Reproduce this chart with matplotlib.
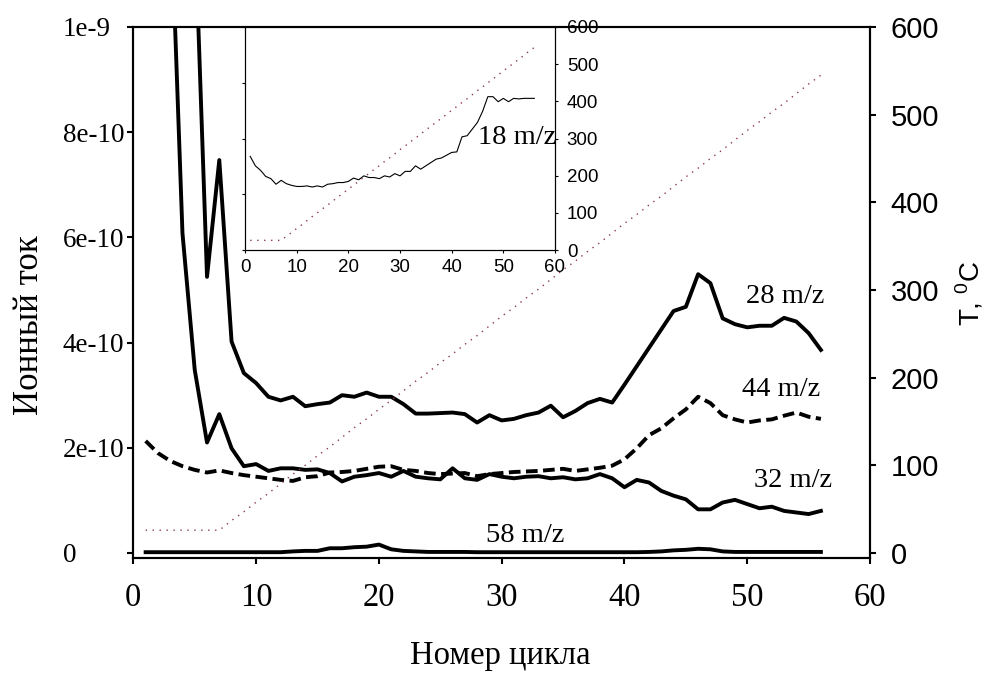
import numpy as np
import matplotlib
matplotlib.use("Agg")
import matplotlib.pyplot as plt

SERIF = ["Liberation Serif", "DejaVu Serif"]
SANS = ["Liberation Sans", "DejaVu Sans"]

# --- data (ion currents in units of 1e-10) ---
cycle = np.arange(1, 57)
ion_28 = [40, 30, 22, 16, 12.0, 5.25, 7.47, 4.02, 3.42, 3.23,
          2.97, 2.90, 2.97, 2.79, 2.83, 2.86, 3.00, 2.97, 3.05, 2.97,
          2.97, 2.83, 2.65, 2.65, 2.66, 2.67, 2.64, 2.48, 2.62, 2.52,
          2.55, 2.62, 2.67, 2.80, 2.58, 2.70, 2.85, 2.93, 2.86, 3.20,
          3.55, 3.90, 4.25, 4.60, 4.68, 5.30, 5.13, 4.46, 4.35, 4.29,
          4.32, 4.32, 4.47, 4.40, 4.18, 3.86]
ion_32 = [30, 20, 12.6, 6.08, 3.48, 2.10, 2.64, 1.99, 1.65, 1.69,
          1.56, 1.61, 1.61, 1.58, 1.59, 1.52, 1.36, 1.45, 1.48, 1.52,
          1.45, 1.56, 1.45, 1.42, 1.40, 1.61, 1.42, 1.39, 1.50, 1.45,
          1.42, 1.45, 1.46, 1.42, 1.44, 1.40, 1.42, 1.50, 1.42, 1.25,
          1.39, 1.34, 1.18, 1.09, 1.02, 0.83, 0.83, 0.96, 1.01, 0.93,
          0.85, 0.88, 0.80, 0.77, 0.74, 0.80]
ion_44 = [2.13, 1.90, 1.75, 1.65, 1.58, 1.53, 1.57, 1.52, 1.48, 1.45,
          1.42, 1.39, 1.37, 1.44, 1.46, 1.53, 1.54, 1.56, 1.60, 1.64,
          1.65, 1.58, 1.56, 1.52, 1.50, 1.51, 1.52, 1.46, 1.50, 1.52,
          1.54, 1.55, 1.56, 1.58, 1.60, 1.56, 1.59, 1.62, 1.66, 1.78,
          1.99, 2.24, 2.37, 2.56, 2.73, 2.97, 2.85, 2.62, 2.54, 2.48,
          2.52, 2.54, 2.61, 2.67, 2.59, 2.55]
ion_58 = [0.015, 0.015, 0.015, 0.015, 0.015, 0.015, 0.015, 0.015, 0.015, 0.015,
          0.015, 0.015, 0.03, 0.04, 0.04, 0.09, 0.09, 0.11, 0.12, 0.16,
          0.07, 0.04, 0.03, 0.02, 0.02, 0.02, 0.02, 0.015, 0.015, 0.015,
          0.015, 0.015, 0.015, 0.015, 0.015, 0.015, 0.015, 0.015, 0.015, 0.015,
          0.015, 0.02, 0.03, 0.05, 0.06, 0.08, 0.07, 0.03, 0.02, 0.02,
          0.02, 0.02, 0.02, 0.02, 0.02, 0.02]
temp = [26, 26, 26, 26, 26, 26, 26, 37, 47, 58,
        68, 79, 90, 100, 111, 121, 132, 143, 153, 164,
        174, 185, 196, 206, 217, 227, 238, 248, 259, 270,
        280, 291, 301, 312, 323, 333, 344, 354, 365, 376,
        386, 397, 407, 418, 429, 439, 450, 460, 471, 482,
        492, 503, 513, 524, 535, 545]
# inset: 18 m/z, arbitrary units
ion_18 = [1.68, 1.51, 1.43, 1.32, 1.28, 1.18, 1.25, 1.19, 1.16, 1.14,
          1.14, 1.15, 1.13, 1.15, 1.13, 1.18, 1.19, 1.21, 1.21, 1.23,
          1.29, 1.26, 1.33, 1.30, 1.30, 1.28, 1.33, 1.31, 1.37, 1.33,
          1.41, 1.41, 1.51, 1.45, 1.51, 1.57, 1.63, 1.65, 1.70, 1.75,
          1.76, 2.03, 2.05, 2.17, 2.29, 2.49, 2.75, 2.75, 2.66, 2.72,
          2.66, 2.72, 2.71, 2.72, 2.72, 2.72]

y_ticks = [0, 2e-10, 4e-10, 6e-10, 8e-10, 1e-9]
y_ticklabels = ["0", "2e-10", "4e-10", "6e-10", "8e-10", "1e-9"]

TEMP_COL = "#8B3A4E"
E10 = 1e-10

fig = plt.figure(figsize=(9.9, 6.73), dpi=100)
ax = fig.add_axes([0.1347, 0.1709, 0.7441, 0.7890])
ax2 = ax.twinx()

ax2.plot(cycle, temp, color=TEMP_COL, lw=1.0, ls=(0, (1, 4)))
ax.plot(cycle, np.array(ion_28) * E10, color="k", lw=2.8)
ax.plot(cycle, np.array(ion_32) * E10, color="k", lw=2.8)
ax.plot(cycle, np.array(ion_44) * E10, color="k", lw=2.8, ls=(0, (3, 1.4)))
ax.plot(cycle, np.array(ion_58) * E10, color="k", lw=2.8)

ax.set_xlim(0, 60)
ax.set_ylim(-0.095e-10, 1e-9)
ax2.set_ylim(-5.7, 600)
ax.set_xticks(range(0, 61, 10))
ax.set_xticklabels([str(v) for v in range(0, 61, 10)], family=SERIF, fontsize=23.5)
ax.set_yticks(y_ticks)
ax.set_yticklabels(y_ticklabels, family=SERIF, fontsize=19.5, ha="left")
ax2.set_yticks(range(0, 601, 100))
ax2.set_yticklabels([str(v) for v in range(0, 601, 100)], family=SANS, fontsize=21)

for a in (ax, ax2):
    for s in a.spines.values():
        s.set_linewidth(1.5)
ax.tick_params(axis="x", direction="out", length=4, width=1.5, pad=14)
ax.tick_params(axis="y", direction="out", length=4, width=1.5, pad=47)
ax2.tick_params(axis="y", direction="out", length=4, width=1.5, pad=11)

fig.text(0.030, 1 - 325 / 673, "Ионный ток", rotation=90, ha="center", va="center",
         family=SERIF, fontsize=25)
fig.text(0.505, 1 - 656 / 673, "Номер цикла", ha="center", va="center",
         family=SERIF, fontsize=23.5)
fig.text(970 / 990, 1 - 293 / 673, r"T, $^{\mathregular{0}}$C", rotation=90,
         ha="center", va="center", family=SANS, fontsize=20)

for txt, xx, yy in [("28 m/z", 53.1, 4.87), ("44 m/z", 52.8, 3.10),
                    ("32 m/z", 53.7, 1.38), ("58 m/z", 31.9, 0.34)]:
    ax.text(xx, yy * E10, txt, ha="center", va="center", family=SERIF, fontsize=20.5)

# --- inset with 18 m/z ---
ins = fig.add_axes([0.2475, 0.6285, 0.3131, 0.3314])
ins.set_facecolor("white")
ins2 = ins.twinx()
ins2.plot(cycle, temp, color=TEMP_COL, lw=1.0, ls=(0, (1, 4)))
ins.plot(cycle, ion_18, color="k", lw=0.8)
ins.set_xlim(0, 60)
ins.set_ylim(0, 4)
ins2.set_ylim(0, 600)
ins.set_xticks(range(0, 61, 10))
ins.set_yticks(range(0, 5))
ins.set_yticklabels([])
ins2.set_yticks(range(0, 601, 100))
for a in (ins, ins2):
    for s in a.spines.values():
        s.set_linewidth(0.8)
ins.tick_params(axis="x", direction="out", length=2.5, width=0.8, pad=4, labelsize=13.5)
ins.tick_params(axis="y", direction="out", length=2.5, width=0.8)
ins2.tick_params(axis="y", direction="out", length=2.5, width=0.8, pad=6, labelsize=13.5)
for lab in ins.get_xticklabels() + ins2.get_yticklabels():
    lab.set_family(SANS)
ins.text(52.6, 2.01, "18 m/z", ha="center", va="center", family=SERIF, fontsize=20.5)

fig.savefig("out.png", dpi=100)
plt.close(fig)
